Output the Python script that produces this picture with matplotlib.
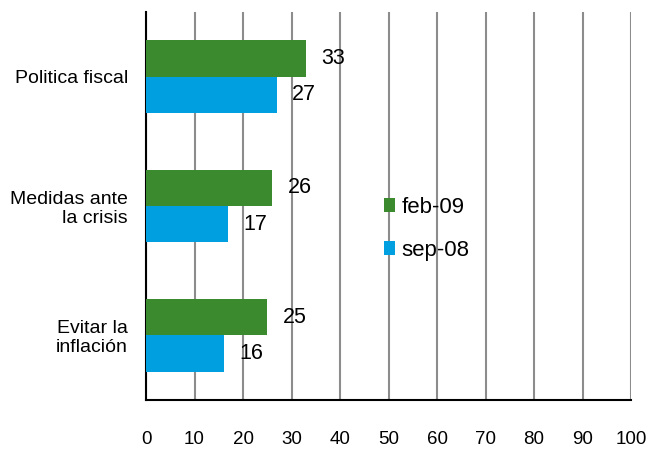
import matplotlib
matplotlib.use("Agg")
import matplotlib.pyplot as plt
import numpy as np

categories = ["Politica fiscal", "Medidas ante\nla crisis", "Evitar la\ninflación"]
feb09 = [33, 26, 25]
sep08 = [27, 17, 16]
series_names = ["feb-09", "sep-08"]
xticks = list(range(0, 101, 10))

green = "#3c8a2e"
blue = "#00a0e0"

plt.rcParams['font.family'] = ['Liberation Sans', 'DejaVu Sans']

W, H = 652, 450
fig = plt.figure(figsize=(W / 100, H / 100), dpi=100)
ax = fig.add_axes([146 / W, 1 - 400 / H, (631 - 146) / W, (400 - 12) / H])

y = np.arange(len(categories))
h = 0.28
b1 = ax.barh(y - h / 2, feb09, height=h, color=green, label=series_names[0], zorder=3)
b2 = ax.barh(y + h / 2, sep08, height=h, color=blue, label=series_names[1], zorder=3)

for bars, vals in ((b1, feb09), (b2, sep08)):
    for rect, v in zip(bars, vals):
        ax.annotate(str(v), (rect.get_width(), rect.get_y() + rect.get_height() / 2),
                    xytext=(11, 0), textcoords="offset points", va="center", ha="left",
                    fontsize=15.5, color="black")

ax.set_xlim(0, 100)
ax.set_ylim(len(categories) - 0.5, -0.5)
ax.set_xticks(xticks)
ax.set_xticklabels([str(t) for t in xticks], fontsize=13.5)
ax.set_yticks(y)
ax.set_yticklabels(categories, fontsize=14, linespacing=1.15)
ax.tick_params(axis='x', length=0, pad=22)
ax.tick_params(axis='y', length=0, pad=13)
ax.xaxis.grid(True, color="#8c8c8c", linewidth=1.5, zorder=0)
ax.set_axisbelow(True)
for s in ("top", "right"):
    ax.spines[s].set_visible(False)
for s in ("left", "bottom"):
    ax.spines[s].set_linewidth(1.5)
    ax.spines[s].set_color("black")

fig.legend(loc="center left", bbox_to_anchor=(384 / W, 1 - 229 / H), frameon=False,
           fontsize=16, handlelength=0.5, handleheight=0.6, handletextpad=0.3,
           labelspacing=1.0, borderaxespad=0, borderpad=0)

fig.savefig("out.png", dpi=100)
